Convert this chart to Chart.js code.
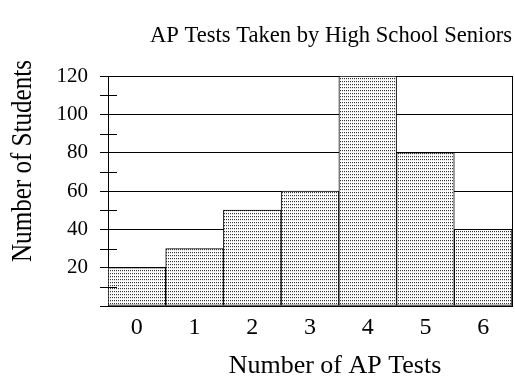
<!DOCTYPE html>
<html>
<head>
<meta charset="utf-8">
<script src="https://cdn.jsdelivr.net/npm/chart.js@4/dist/chart.umd.min.js"></script>
<style>
html,body{margin:0;padding:0;background:#fff;}
#wrap{width:515px;height:381px;}
</style>
</head>
<body>
<div id="wrap"><canvas id="c" width="515" height="381"></canvas></div>
<script>
const categories = ['0', '1', '2', '3', '4', '5', '6'];
const students = [20, 30, 50, 60, 120, 80, 40];
const minorTickValues = [10, 30, 50, 70, 90, 110];
const chartTitle = 'AP Tests Taken by High School Seniors';
const xTitle = 'Number of AP Tests';
const yTitle = 'Number of Students';

const SERIF = "'Liberation Serif', 'Times New Roman', serif";

function makePattern() {
  const t = document.createElement('canvas');
  t.width = 2; t.height = 3;
  const g = t.getContext('2d');
  g.fillStyle = '#fff'; g.fillRect(0, 0, 2, 3);
  g.fillStyle = '#333'; g.fillRect(0, 0, 1, 1);
  g.fillStyle = '#ddd'; g.fillRect(0, 1, 1, 1);
  const ctx = document.getElementById('c').getContext('2d');
  return ctx.createPattern(t, 'repeat');
}

const extras = {
  id: 'extras',
  afterDatasetsDraw(chart) {
    const ctx = chart.ctx;
    const y = chart.scales.y;
    const left = chart.chartArea.left;
    ctx.save();
    ctx.strokeStyle = '#000';
    ctx.lineWidth = 1;
    minorTickValues.forEach(v => {
      const py = Math.round(y.getPixelForValue(v)) + 0.5;
      ctx.beginPath();
      ctx.moveTo(left - 8, py);
      ctx.lineTo(left + 9, py);
      ctx.stroke();
    });
    ctx.restore();
  },
  afterDraw(chart) {
    const ctx = chart.ctx;
    const area = chart.chartArea;
    ctx.save();
    ctx.fillStyle = '#000';
    ctx.textAlign = 'center';
    ctx.textBaseline = 'middle';
    // x-axis title
    ctx.font = '26px ' + SERIF;
    ctx.fillText(xTitle, area.left + (area.right - area.left) / 2 + 25, 366);
    // y-axis title (condensed)
    ctx.font = '30px ' + SERIF;
    ctx.translate(23, 161);
    ctx.rotate(-Math.PI / 2);
    ctx.fillText(yTitle, 0, 0, 202);
    ctx.restore();
  }
};

new Chart(document.getElementById('c'), {
  type: 'bar',
  data: {
    labels: categories,
    datasets: [{
      data: students,
      backgroundColor: makePattern(),
      borderColor: '#000',
      borderWidth: 1,
      borderSkipped: false,
      barPercentage: 1,
      categoryPercentage: 1
    }]
  },
  options: {
    responsive: false,
    animation: false,
    devicePixelRatio: 1,
    layout: { padding: { top: 0, right: 3, left: 0, bottom: 0 } },
    plugins: {
      legend: { display: false },
      tooltip: { enabled: false },
      title: {
        display: true,
        text: chartTitle,
        align: 'end',
        color: '#000',
        font: { family: SERIF, size: 22.6, weight: 'normal' },
        padding: { top: 23, bottom: 25.9 }
      }
    },
    scales: {
      x: {
        grid: { display: false, drawTicks: false },
        border: { display: false },
        ticks: {
          color: '#000',
          font: { family: SERIF, size: 24 },
          padding: 7,
          maxRotation: 0
        },
        afterFit(s) { s.height = 75; }
      },
      y: {
        min: 0,
        max: 120,
        ticks: {
          stepSize: 20,
          color: '#000',
          font: { family: SERIF, size: 21 },
          padding: 12,
          callback: v => (v === 0 ? '' : String(v))
        },
        grid: { color: '#000', lineWidth: 1, tickLength: 8 },
        border: { display: true, color: '#000', width: 1 },
        afterFit(s) { s.width = 108; }
      },
      y2: {
        position: 'right',
        min: 0,
        max: 120,
        grid: { display: false },
        ticks: { display: false },
        border: { display: true, color: '#000', width: 1 },
        afterFit(s) { s.width = 0; }
      }
    }
  },
  plugins: [extras]
});
</script>
</body>
</html>
